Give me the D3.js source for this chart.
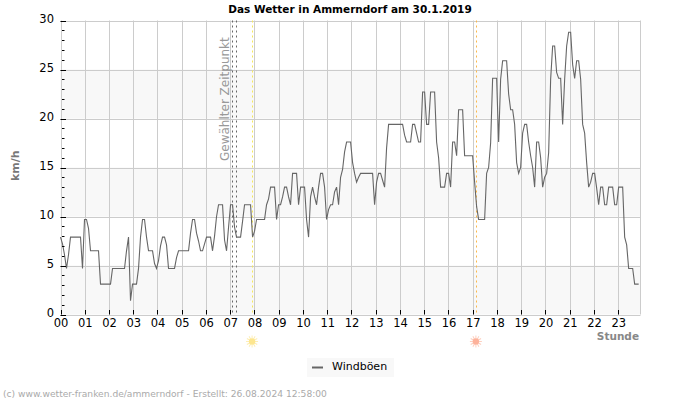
<!DOCTYPE html>
<html>
<head>
<meta charset="utf-8">
<script src="https://cdn.jsdelivr.net/npm/d3@7"></script>
<style>
html,body{margin:0;padding:0;background:#fff;}
svg{display:block;}
text{font-family:"DejaVu Sans",sans-serif;}
</style>
</head>
<body>
<svg id="c" width="700" height="400"></svg>
<script>
const chartTitle = "Das Wetter in Ammerndorf am 30.1.2019";
const seriesName = "Windböen";
const footerText = "(c) www.wetter-franken.de/ammerndorf - Erstellt: 26.08.2024 12:58:00";
const hourLabels = ["00","01","02","03","04","05","06","07","08","09","10","11","12","13","14","15","16","17","18","19","20","21","22","23"];
const yMajor = [0,5,10,15,20,25,30];
const yMinor = [1,2,3,4,6,7,8,9,11,12,13,14,16,17,18,19,21,22,23,24,26,27,28,29];
const bands = [[0,5],[10,15],[20,25]];
const selectedHours = [7.07,7.22];
const sunriseHour = 7.9;
const sunsetHour = 17.13;
const sampleMinutes = 4.95;
const gusts = [
7.9,7.2,6.1,4.7,6.1,7.9,7.9,7.9,7.9,7.9,7.9,4.7,
9.7,9.7,8.8,6.5,6.5,6.5,6.5,6.5,3.1,3.1,3.1,3.1,
3.1,3.1,4.7,4.7,4.7,4.7,4.7,4.7,4.7,6.5,7.9,1.4,
3.1,3.1,3.1,4.7,7.9,9.7,9.7,7.9,6.5,6.5,6.5,5.2,
4.7,5.5,7,7.9,7.9,7.1,4.7,4.7,4.7,4.7,5.8,6.5,
6.5,6.5,6.5,6.5,6.5,8.3,9.7,9.7,8.3,7.5,6.5,6.5,
7.2,7.9,7.9,7.9,6.5,8,10,11.2,11.2,11.2,7.6,6.5,
8.9,11.2,11.2,8.9,7.9,7.9,7.9,9.5,11.2,11.2,11.2,11.2,
7.9,8.5,9.7,9.7,9.7,9.7,9.7,11.2,11.8,13,13,13,
9.7,11.2,11.2,12,13,13,12,11.2,14.4,14.4,14.4,11.2,
13,13,13,9.7,7.9,12,13,12,11.2,13,14.4,14.4,
13,9.7,10.7,11.2,11.2,12.5,13,11.2,14,14.8,16.6,17.6,
17.6,17.6,15.5,14.4,13.5,14,14.4,14.4,14.4,14.4,14.4,14.4,
14.4,11.2,13.5,14.4,14.4,13.7,13,17,19.4,19.4,19.4,19.4,
19.4,19.4,19.4,19.4,18.3,17.6,17.6,17.6,19.4,19.4,18.5,17.6,
17.6,22.7,22.7,19.4,19.4,22.7,22.7,22.7,17.6,16,13,13,
13,14.4,14.4,13,17.6,17.6,16.2,20.9,20.9,20.9,16.2,16.2,
16.2,16.2,16.2,13.5,11,9.7,9.7,9.7,9.7,14.4,15,17.5,
24.1,24.1,24.1,17.6,24,25.9,25.9,25.9,22.5,20.9,20.9,19.4,
15.5,14.4,15,18.5,19.4,19.4,17.6,16.2,15,13,17.6,17.6,
16,13,14,14.4,16.5,24,27.4,27.4,24.7,24.1,24.1,19.4,
24,27.4,28.8,28.8,25.5,24.1,25.9,25.9,24,19.4,18.5,15.5,
13,13.5,14.4,14.4,12.9,11.2,13,13,11.2,11.2,13,13,
13,11.2,11.2,13,13,13,7.9,7.1,4.7,4.7,4.7,3.1,
3.1,3.1
];

const svg = d3.select("#c");
const pLeft = 60.5, pRight = 640.5, pTop = 20.5, pBottom = 314.5;
const x = d3.scaleLinear().domain([0,23.918]).range([pLeft,pRight]);
const y = d3.scaleLinear().domain([0,30]).range([pBottom,pTop]);
const snap = v => Math.round(v) + 0.5;

svg.selectAll("rect.band").data(bands).join("rect").attr("class","band")
  .attr("x",pLeft).attr("width",pRight-pLeft)
  .attr("y",d=>y(d[1])).attr("height",d=>y(d[0])-y(d[1])).attr("fill","#f8f8f8");

svg.selectAll("line.gy").data(yMajor).join("line").attr("class","gy")
  .attr("x1",pLeft).attr("x2",pRight).attr("y1",d=>snap(y(d))).attr("y2",d=>snap(y(d)))
  .attr("stroke","#ccc");
const hours = hourLabels.map((d,i)=>i);
svg.selectAll("line.gx").data(hours).join("line").attr("class","gx")
  .attr("x1",d=>snap(x(d))).attr("x2",d=>snap(x(d))).attr("y1",pTop).attr("y2",pBottom)
  .attr("stroke","#ccc");
svg.append("line").attr("x1",pRight).attr("x2",pRight).attr("y1",pTop).attr("y2",pBottom).attr("stroke","#ccc");

svg.selectAll("line.sel").data(selectedHours).join("line").attr("class","sel")
  .attr("x1",d=>snap(x(d))).attr("x2",d=>snap(x(d))).attr("y1",pTop).attr("y2",pBottom)
  .attr("stroke","#666").attr("stroke-dasharray","2,3");
svg.append("line").attr("x1",snap(x(sunriseHour))).attr("x2",snap(x(sunriseHour))).attr("y1",pTop).attr("y2",pBottom)
  .attr("stroke","#f5e85a").attr("stroke-dasharray","2,3");
svg.append("line").attr("x1",snap(x(sunsetHour))).attr("x2",snap(x(sunsetHour))).attr("y1",pTop).attr("y2",pBottom)
  .attr("stroke","#fbb94a").attr("stroke-dasharray","2,3");

svg.append("text").attr("transform",`translate(${x(selectedHours[0])-3},161) rotate(-90)`)
  .attr("font-size",12).attr("fill","#999").text("Gewählter Zeitpunkt");

const line = d3.line().x((d,i)=>x(i*sampleMinutes/60)).y(d=>y(d)).curve(d3.curveLinear);
svg.append("path").datum(gusts).attr("d",line).attr("fill","none")
  .attr("stroke","#666").attr("stroke-width",1.1);

// ticks
svg.selectAll("line.ty").data(yMajor).join("line").attr("class","ty")
  .attr("x1",pLeft).attr("x2",66).attr("y1",d=>snap(y(d))).attr("y2",d=>snap(y(d))).attr("stroke","#000");
svg.selectAll("line.tm").data(yMinor).join("line").attr("class","tm")
  .attr("x1",62).attr("x2",64.5).attr("y1",d=>snap(y(d))).attr("y2",d=>snap(y(d))).attr("stroke","#000");
svg.selectAll("line.tx").data(hours).join("line").attr("class","tx")
  .attr("x1",d=>snap(x(d))).attr("x2",d=>snap(x(d))).attr("y1",310).attr("y2",pBottom).attr("stroke","#000");

svg.selectAll("text.ly").data(yMajor).join("text").attr("class","ly")
  .attr("x",54).attr("y",d=>y(d)+2).attr("text-anchor","end").attr("font-size",11.5).attr("fill","#000").text(d=>d);
svg.selectAll("text.lx").data(hourLabels).join("text").attr("class","lx")
  .attr("x",(d,i)=>x(i)+0.5).attr("y",327).attr("text-anchor","middle").attr("font-size",11.5).attr("fill","#000").text(d=>d);

svg.append("text").attr("x",350).attr("y",13).attr("text-anchor","middle")
  .attr("font-size",10.5).attr("font-weight","bold").attr("fill","#000").text(chartTitle);
svg.append("text").attr("transform","translate(19,181) rotate(-90)")
  .attr("font-size",11).attr("font-weight","bold").attr("fill","#777").text("km/h");
svg.append("text").attr("x",639).attr("y",339.5).attr("text-anchor","end")
  .attr("font-size",10.5).attr("font-weight","bold").attr("fill","#888").text("Stunde");

// sun symbols
const sunRays = d3.range(12).map(i=>i*30);
function sun(h,fill,ray){
  const g = svg.append("g").attr("transform",`translate(${x(h)},341.5)`);
  g.selectAll("line").data(sunRays).join("line")
    .attr("x1",0).attr("y1",-3).attr("x2",0).attr("y2",-6)
    .attr("transform",d=>`rotate(${d})`).attr("stroke",ray).attr("stroke-width",1);
  g.append("circle").attr("r",3.2).attr("fill",fill);
}
sun(sunriseHour,"#fde68f","#fdeeb5");
sun(sunsetHour,"#fdb29b","#fdd0c0");

// legend
svg.append("rect").attr("x",307).attr("y",358).attr("width",87).attr("height",19).attr("fill","#f8f8f8");
svg.append("line").attr("x1",312).attr("x2",323).attr("y1",367.5).attr("y2",367.5).attr("stroke","#666").attr("stroke-width",2);
svg.append("text").attr("x",332).attr("y",370).attr("font-size",11).attr("fill","#000").text(seriesName);

svg.append("text").attr("x",3).attr("y",397).attr("font-size",9.15).attr("fill","#aaa").text(footerText);
</script>
</body>
</html>
